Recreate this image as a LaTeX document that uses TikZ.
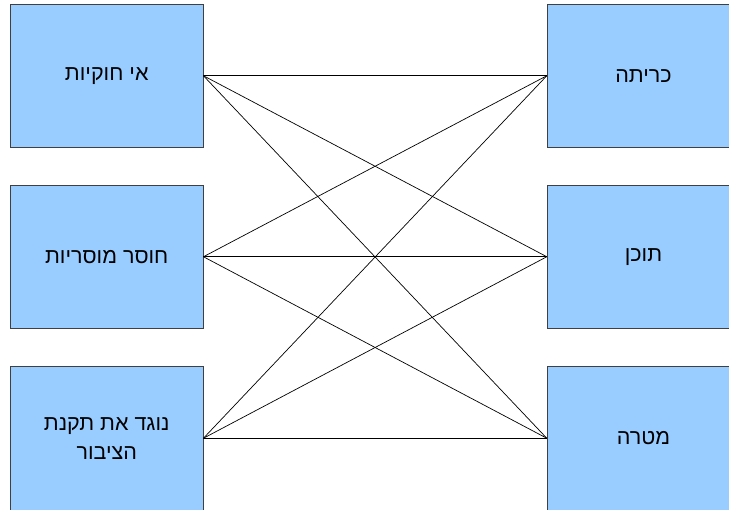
\documentclass[tikz,border=0pt]{standalone}
\usepackage{fontspec}
\newfontfamily\hebfont[Script=Hebrew]{Liberation Sans}
\TeXXeTstate=1
\definecolor{boxfill}{HTML}{99CCFF}
\definecolor{boxline}{HTML}{404040}
\begin{document}
\begin{tikzpicture}[x=1pt,y=-1pt,
  hbox/.style={draw=boxline, line width=0.9pt, fill=boxfill, rectangle,
    minimum width=192.5pt, minimum height=143.5pt, inner sep=0pt,
    font=\hebfont\fontsize{21.5}{29}\selectfont, align=center, text=black},
  link/.style={draw=black, line width=0.7pt}]
\useasboundingbox (0,0) rectangle (729,510);
\clip (0,0) rectangle (729,510);
\node[hbox] (L1) at (106.75,75.75) {\beginR אי חוקיות\endR};
\node[hbox] (L2) at (106.75,256.75) {\beginR חוסר מוסריות\endR};
\node[hbox] (L3) at (106.75,438.25) {\beginR נוגד את תקנת\endR\\\beginR הציבור\endR};
\node[hbox] (R1) at (643.5,75.75) {\beginR כריתה\endR};
\node[hbox] (R2) at (643.5,256.75) {\beginR תוכן\endR};
\node[hbox] (R3) at (643.5,438.25) {\beginR מטרה\endR};
\foreach \a in {L1,L2,L3}{
  \foreach \b in {R1,R2,R3}{
    \draw[link] (\a.east) -- (\b.west);
  }
}
\end{tikzpicture}
\end{document}
